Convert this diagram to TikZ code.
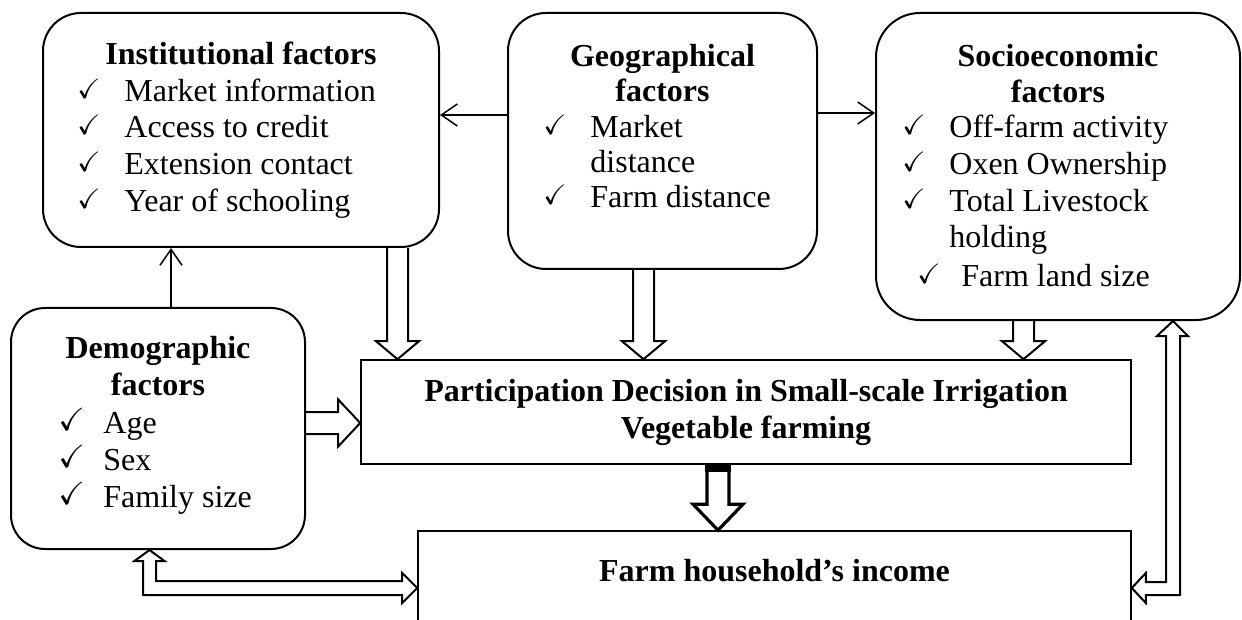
\documentclass[tikz,border=0pt]{standalone}
\usepackage{amssymb}
\usepackage{fontspec}
\setmainfont{Liberation Serif}
\usetikzlibrary{arrows.meta,calc}

\newcommand\txtsize{\fontsize{16}{18}\selectfont}
\newcommand\chk[2][14]{\makebox[#2][l]{\raisebox{1.5pt}{\fontsize{#1}{#1}\selectfont$\checkmark$}}}

% block arrow pointing down, open at its start
\newcommand\hollowdown[2]{%
  \draw[hollow] let \p1=#1, \p2=#2 in
    (\x2-5.25pt,\y1) -- (\x2-5.25pt,\y2+9pt) -- (\x2-10.75pt,\y2+9pt)
    -- (\x2,\y2) -- (\x2+10.75pt,\y2+9pt) -- (\x2+5.25pt,\y2+9pt)
    -- (\x2+5.25pt,\y1);}

\begin{document}
\begin{tikzpicture}[
  x=.5pt,y=-.5pt,
  line join=miter,
  box/.style={draw,line width=1pt,rounded corners=19pt,inner sep=0pt},
  flat/.style={draw,line width=.8pt,inner sep=0pt},
  head/.style={anchor=base,inner sep=0pt,font=\txtsize\bfseries},
  item/.style={anchor=base west,inner sep=0pt,font=\txtsize},
  link/.style={-{Straight Barb[length=8pt,width=11pt]},line width=.75pt},
  hollow/.style={draw,line width=1pt},
  heavy/.style={draw,line width=1.6pt}
]
\useasboundingbox (0,0) rectangle (1242,620);

% factor boxes
\node[box,minimum width=198pt,minimum height=117pt] (inst) at (241,130) {};
\node[box,minimum width=154.5pt,minimum height=128pt] (geo) at (662.5,141) {};
\node[box,rounded corners=22pt,minimum width=182pt,minimum height=153.5pt] (socio) at (1058,166.5) {};
\node[box,rounded corners=17pt,minimum width=147pt,minimum height=120.5pt] (demo) at (158,428.5) {};

% decision and outcome
\node[flat,minimum width=385pt,minimum height=52pt,align=center,
  font=\fontsize{16}{18.5}\selectfont\bfseries] (part) at (746,412)
  {Participation Decision in Small-scale Irrigation\\Vegetable farming};
\node[flat,minimum width=356.5pt,minimum height=60pt] (income) at (774.5,591) {};
\node[head] (incometxt) at (774.5,581) {Farm household’s income};

% headings
\node[head] (insthead) at (241,65) {Institutional factors};
\node[head] (geohead) at (662.5,67) {Geographical};
\node[head] (geohead2) at (662.5,102) {factors};
\node[head] (sociohead) at (1058,67) {Socioeconomic};
\node[head] (sociohead2) at (1058,103) {factors};
\node[head] (demohead) at (158,358) {Demographic};
\node[head] (demohead2) at (158,395) {factors};

% check lists
\foreach \y/\t in {102/Market information,138/Access to credit,
                   175/Extension contact,212/Year of schooling}
  \node[item] (inst\y) at (77,\y) {\chk{23.5pt}\t};
\node[item] (geo138) at (543,138) {\chk{23.5pt}Market};
\node[item] (geo173) at (590,173) {distance};
\node[item] (geo208) at (543,208) {\chk{23.5pt}Farm distance};
\foreach \y/\t in {138/Off-farm activity,175/Oxen Ownership,212/Total Livestock}
  \node[item] (socio\y) at (902,\y) {\chk{23.5pt}\t};
\node[item] (socio248) at (949,248) {holding};
\node[item] (socio286) at (917,286) {\chk{22pt}Farm land size};
\foreach \y/\t in {433/Age,470/Sex,507/Family size}
  \node[item] (demo\y) at (58,\y) {\chk[16]{22.5pt}\t};

% plain links
\draw[link] (geo.west |- 0,115) -- (inst.east |- 0,115);
\draw[link] (geo.east |- 0,113) -- (socio.west |- 0,113);
\draw[link] (demo.north -| 171,0) -- (inst.south -| 171,0);

% block arrows into the decision
\hollowdown{(inst.south -| 397.5,0)}{(part.north -| 397.5,0)}
\hollowdown{(geo.south -| 643.5,0)}{(part.north -| 643.5,0)}
\hollowdown{(socio.south -| 1023.5,0)}{(part.north -| 1023.5,0)}
\draw[hollow] let \p1=(demo.east |- 0,423), \p2=(part.west |- 0,423) in
  (\x1,\y1+5.5pt) -- (\x2-11pt,\y2+5.5pt) -- (\x2-11pt,\y2+11.75pt)
  -- (\x2,\y2) -- (\x2-11pt,\y2-11.75pt) -- (\x2-11pt,\y2-5.5pt)
  -- (\x1,\y1-5.5pt);

% decision to income
\draw[heavy] let \p1=(part.south -| 718,0), \p2=(income.north -| 718,0) in
  (\x1-5.5pt,\y1) -- (\x2-5.5pt,\y2+13pt) -- (\x2-12.5pt,\y2+13pt)
  -- (\x2,\y2) -- (\x2+12.5pt,\y2+13pt) -- (\x2+5.5pt,\y2+13pt)
  -- (\x1+5.5pt,\y1);
\fill let \p1=(part.south -| 718,0) in
  (\x1-6.5pt,\y1) rectangle (\x1+6.5pt,\y1-3.5pt);

% two-way links to income
\draw[hollow] let \p1=(demo.south -| 149.5,0), \p2=(income.west |- 0,588) in
  (\x1,\y1) -- (\x1+7.5pt,\y1-5.5pt) -- (\x1+3.25pt,\y1-5.5pt)
  -- (\x1+3.25pt,\y2+3.5pt) -- (\x2-7.5pt,\y2+3.5pt) -- (\x2-7.5pt,\y2+7.5pt)
  -- (\x2,\y2) -- (\x2-7.5pt,\y2-7.5pt) -- (\x2-7.5pt,\y2-3.5pt)
  -- (\x1-3.25pt,\y2-3.5pt) -- (\x1-3.25pt,\y1-5.5pt) -- (\x1-7.5pt,\y1-5.5pt)
  -- cycle;
\draw[hollow] let \p1=(socio.south -| 1173,0), \p2=(income.east |- 0,588) in
  (\x1,\y1) -- (\x1+7.5pt,\y1-7.5pt) -- (\x1+3.5pt,\y1-7.5pt)
  -- (\x1+3.5pt,\y2-3.5pt) -- (\x2+7pt,\y2-3.5pt) -- (\x2+7pt,\y2-7.5pt)
  -- (\x2,\y2) -- (\x2+7pt,\y2+7.5pt) -- (\x2+7pt,\y2+3pt)
  -- (\x1-3.5pt,\y2+3pt) -- (\x1-3.5pt,\y1-7.5pt) -- (\x1-8pt,\y1-7.5pt)
  -- cycle;

\end{tikzpicture}
\end{document}
